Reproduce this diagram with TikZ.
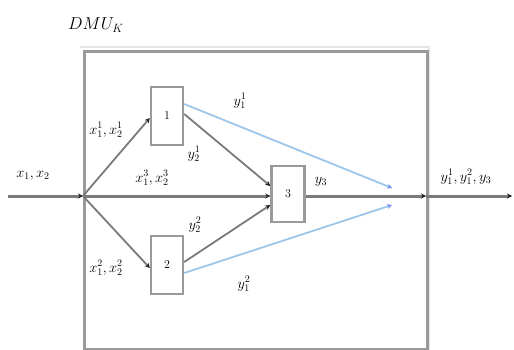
\documentclass[tikz,border=0pt]{standalone}
\usetikzlibrary{arrows.meta}
\definecolor{linegray}{HTML}{7A7A7A}
\definecolor{boxgray}{HTML}{9A9A9A}
\definecolor{flowblue}{HTML}{9CC6EA}
\definecolor{tipdark}{HTML}{202020}
\begin{document}
\begin{tikzpicture}[x=1pt,y=-1pt,
  unit/.style={draw=boxgray,line width=2.4pt,fill=white,minimum width=32pt,minimum height=58pt,inner sep=0pt,font=\fontsize{13}{15}\selectfont},
  flow/.style={draw=linegray,line width=1.8pt,-{Stealth[length=5pt,width=5pt,fill=tipdark,color=tipdark]}},
  mainflow/.style={draw=linegray,line width=3pt,-{Stealth[length=5pt,width=5pt,fill=tipdark,color=tipdark]}},
  outflow/.style={draw=flowblue,line width=1.8pt,-{Stealth[length=5pt,width=5pt,fill=flowblue!70!blue,color=flowblue!70!blue]}},
  lbl/.style={font=\fontsize{14}{16}\selectfont,inner sep=0.5pt}]
\useasboundingbox (0,0) rectangle (514,350);
% enclosing DMU frame with a faint rim on the top and right
\draw[black!10,line width=2.5pt] (80,47) -- (429,47) -- (429,350);
\node[draw=boxgray,line width=2.6pt,minimum width=343pt,minimum height=298pt,anchor=north west,inner sep=0pt] (dmu) at (83,50) {};
\node[font=\fontsize{17}{20}\selectfont] (dmulbl) at (96,25) {$DMU_K$};
% divisions
\node[unit] (u1) at (167,116) {$1$};
\node[unit] (u2) at (167,265) {$2$};
\node[unit,minimum width=33pt,minimum height=56pt] (u3) at (288,194) {$3$};
% connection points
\coordinate (src) at (8,196);
\coordinate (jn) at (83,196);
\coordinate (frameout) at (426,196);
\coordinate (sink) at (512,196);
\coordinate (b1) at (392,188);
\coordinate (b2) at (392,205);
% inputs
\draw[mainflow] (src) -- (jn);
\draw[flow] (jn) -- ([yshift=-2pt]u1.west);
\draw[flow] (jn) -- ([yshift=-3pt]u2.west);
\draw[mainflow] (jn) -- ([yshift=-2pt]u3.west);
% intermediate products
\draw[flow] ([yshift=2pt]u1.east) -- ([yshift=8pt]u3.west);
\draw[flow] ([yshift=3pt]u2.east) -- ([yshift=-11pt]u3.west);
% final outputs of divisions 1 and 2
\draw[outflow] ([yshift=12pt]u1.east) -- (b1);
\draw[outflow] ([yshift=-8pt]u2.east) -- (b2);
% output of division 3 and of the DMU
\draw[mainflow] ([yshift=-2pt]u3.east) -- (frameout);
\draw[mainflow] (frameout) -- (sink);
% labels
\node[lbl] (lx) at (33,176) {$x_1,x_2$};
\node[lbl] (lx1) at (106,130) {$x_1^1,x_2^1$};
\node[lbl] (lx3) at (152,178) {$x_1^3,x_2^3$};
\node[lbl] (lx2) at (106,268) {$x_1^2,x_2^2$};
\node[lbl] (ly11) at (240,101) {$y_1^1$};
\node[lbl] (ly21) at (194,154) {$y_2^1$};
\node[lbl] (ly22) at (195,225) {$y_2^2$};
\node[lbl] (ly12) at (244,284) {$y_1^2$};
\node[lbl] (ly3) at (321,182) {$y_3$};
\node[lbl] (lout) at (466,177) {$y_1^1,y_1^2,y_3$};
\end{tikzpicture}
\end{document}
